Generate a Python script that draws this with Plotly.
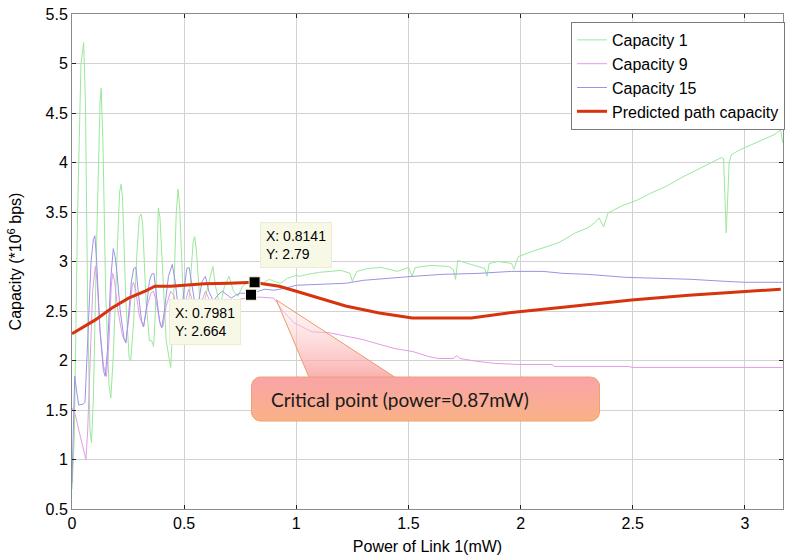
import numpy as np
import plotly.graph_objects as go

# ---- series data: power of link 1 (mW) vs capacity (*10^6 bps) ----
cap1_x = [0.000, 0.010, 0.025, 0.040, 0.052, 0.060, 0.070, 0.080, 0.087, 0.095,
          0.110, 0.125, 0.130, 0.138, 0.150, 0.165, 0.173, 0.183, 0.200, 0.212,
          0.219, 0.225, 0.240, 0.255, 0.262, 0.275, 0.290, 0.300, 0.308, 0.315,
          0.330, 0.345, 0.355, 0.364, 0.372, 0.385, 0.392, 0.405, 0.420, 0.440,
          0.450, 0.465, 0.473, 0.480, 0.495, 0.510, 0.525, 0.540, 0.547, 0.555,
          0.570, 0.585, 0.600, 0.620, 0.628, 0.640, 0.660, 0.680, 0.700, 0.720,
          0.740, 0.760, 0.790, 0.820, 0.850, 0.880, 0.900, 0.930, 0.960, 1.000,
          1.013, 1.050, 1.100, 1.150, 1.200, 1.240, 1.250, 1.270, 1.320, 1.380,
          1.420, 1.450, 1.500, 1.516, 1.530, 1.600, 1.680, 1.700, 1.710, 1.720,
          1.780, 1.840, 1.850, 1.860, 1.900, 1.960, 1.970, 1.990, 2.050, 2.100,
          2.170, 2.245, 2.300, 2.335, 2.350, 2.370, 2.390, 2.450, 2.520, 2.580,
          2.650, 2.720, 2.790, 2.850, 2.895, 2.905, 2.917, 2.930, 2.940, 2.980,
          3.030, 3.080, 3.130, 3.160, 3.168]
cap1_y = [0.70, 1.20, 3.50, 5.00, 5.21, 4.60, 2.50, 1.30, 1.17, 1.60,
          3.20, 4.60, 4.75, 4.20, 2.70, 1.75, 1.62, 2.00, 3.00, 3.70,
          3.78, 3.65, 2.60, 2.02, 2.00, 2.40, 3.10, 3.45, 3.48, 3.38,
          2.60, 2.20, 2.20, 2.14, 2.50, 3.54, 3.45, 2.80, 2.20, 1.93,
          2.40, 3.50, 3.73, 3.55, 2.70, 2.40, 2.70, 3.20, 3.25, 3.10,
          2.60, 2.55, 2.70, 2.90, 2.95, 2.75, 2.55, 2.75, 2.85, 2.70,
          2.65, 2.75, 2.80, 2.75, 2.78, 2.82, 2.80, 2.78, 2.83, 2.86,
          2.85, 2.87, 2.89, 2.90, 2.91, 2.88, 2.80, 2.90, 2.93, 2.94,
          2.92, 2.90, 2.94, 2.85, 2.94, 2.96, 2.95, 2.92, 2.82, 3.01,
          2.97, 2.93, 2.85, 2.98, 3.00, 2.98, 2.92, 3.05, 3.10, 3.14,
          3.19, 3.29, 3.34, 3.40, 3.44, 3.35, 3.49, 3.56, 3.62, 3.69,
          3.76, 3.85, 3.93, 4.00, 4.05, 4.04, 3.29, 4.00, 4.08, 4.13,
          4.18, 4.23, 4.28, 4.33, 4.20]

cap9_x = [0.000, 0.015, 0.030, 0.045, 0.062, 0.070, 0.080, 0.092, 0.104, 0.112,
          0.125, 0.140, 0.154, 0.165, 0.175, 0.181, 0.190, 0.205, 0.225, 0.240,
          0.255, 0.268, 0.274, 0.285, 0.300, 0.319, 0.335, 0.352, 0.363, 0.375,
          0.395, 0.405, 0.420, 0.440, 0.455, 0.475, 0.490, 0.505, 0.520, 0.535,
          0.555, 0.575, 0.595, 0.615, 0.640, 0.660, 0.690, 0.720, 0.750, 0.780,
          0.836, 0.900, 0.940, 0.990, 1.070, 1.147, 1.265, 1.300, 1.360, 1.440,
          1.520, 1.590, 1.635, 1.700, 1.715, 1.730, 1.810, 1.890, 1.990, 2.140,
          2.150, 2.480, 2.500, 3.168]
cap9_y = [1.52, 1.45, 1.30, 1.15, 1.00, 1.30, 2.00, 2.70, 2.95, 2.80,
          2.30, 1.95, 1.84, 2.20, 2.75, 2.88, 2.80, 2.50, 2.25, 2.18,
          2.45, 2.75, 2.79, 2.70, 2.45, 2.34, 2.55, 2.68, 2.70, 2.60,
          2.35, 2.34, 2.55, 2.70, 2.65, 2.45, 2.45, 2.60, 2.72, 2.62,
          2.50, 2.58, 2.70, 2.60, 2.56, 2.58, 2.62, 2.60, 2.62, 2.63,
          2.64, 2.63, 2.50, 2.38, 2.29, 2.28, 2.23, 2.21, 2.17, 2.12,
          2.09, 2.04, 2.02, 2.02, 2.05, 2.02, 1.99, 1.97, 1.96, 1.96,
          1.94, 1.94, 1.93, 1.93]

cap15_x = [0.000, 0.006, 0.012, 0.020, 0.030, 0.050, 0.058, 0.070, 0.085, 0.095,
           0.102, 0.110, 0.125, 0.140, 0.148, 0.158, 0.172, 0.184, 0.192, 0.200,
           0.215, 0.232, 0.240, 0.250, 0.265, 0.275, 0.285, 0.295, 0.310, 0.319,
           0.330, 0.345, 0.355, 0.365, 0.375, 0.390, 0.400, 0.412, 0.430, 0.447,
           0.460, 0.475, 0.485, 0.500, 0.512, 0.522, 0.535, 0.550, 0.565, 0.580,
           0.595, 0.610, 0.630, 0.650, 0.670, 0.690, 0.710, 0.730, 0.750, 0.780,
           0.7981, 0.830, 0.860, 0.900, 0.950, 1.000, 1.100, 1.220, 1.300, 1.400,
           1.520, 1.650, 1.810, 1.960, 2.100, 2.190, 2.300, 2.470, 2.600, 2.760,
           2.910, 3.000, 3.168]
cap15_y = [0.76, 1.30, 1.84, 1.70, 1.55, 1.56, 1.58, 2.20, 3.00, 3.22,
           3.26, 3.00, 2.30, 1.90, 1.84, 2.10, 2.80, 3.13, 3.05, 2.90,
           2.50, 2.22, 2.18, 2.40, 2.80, 2.93, 2.94, 2.70, 2.40, 2.34,
           2.50, 2.80, 2.87, 2.88, 2.70, 2.40, 2.33, 2.50, 2.85, 2.97,
           2.80, 2.50, 2.45, 2.70, 2.93, 2.94, 2.75, 2.55, 2.60, 2.80,
           2.85, 2.70, 2.60, 2.66, 2.70, 2.66, 2.63, 2.66, 2.68, 2.68,
           2.664, 2.70, 2.72, 2.71, 2.73, 2.76, 2.77, 2.78, 2.81, 2.83,
           2.85, 2.87, 2.88, 2.90, 2.90, 2.88, 2.87, 2.84, 2.83, 2.82,
           2.80, 2.79, 2.79]

pred_x = [0.000, 0.050, 0.104, 0.178, 0.252, 0.326, 0.370, 0.440, 0.500, 0.591,
          0.700, 0.760, 0.8141, 0.850, 0.924, 1.000, 1.070, 1.220, 1.370, 1.517,
          1.780, 1.960, 2.200, 2.495, 2.750, 3.000, 3.160]
pred_y = [2.27, 2.34, 2.41, 2.53, 2.63, 2.70, 2.75, 2.75, 2.76, 2.775,
          2.78, 2.785, 2.79, 2.775, 2.75, 2.70, 2.65, 2.55, 2.48, 2.43,
          2.43, 2.485, 2.54, 2.61, 2.66, 2.70, 2.72]

# data-cursor tips
tip_x = [0.8141, 0.7981]
tip_y = [2.79, 2.664]

x_ticks = [0, 0.5, 1, 1.5, 2, 2.5, 3]
y_ticks = [0.5, 1, 1.5, 2, 2.5, 3, 3.5, 4, 4.5, 5, 5.5]

callout_text = "Critical point (power=0.87mW)"

# ---- figure geometry ----
W, H = 789, 560
ML, MR, MT, MB = 72, 4, 14, 51
X_RANGE = (0, 3.17)
Y_RANGE = (0.5, 5.5)


def px_x(px):
    return X_RANGE[0] + (px - ML) / (W - ML - MR) * (X_RANGE[1] - X_RANGE[0])


def px_y(py):
    return Y_RANGE[0] + (H - MB - py) / (H - MT - MB) * (Y_RANGE[1] - Y_RANGE[0])


def rounded_rect(x0, y0, x1, y1, r, n=8):
    """Closed outline (pixel space) of a rounded rectangle."""
    pts = []
    corners = [(x1 - r, y0 + r, -90, 0), (x1 - r, y1 - r, 0, 90),
               (x0 + r, y1 - r, 90, 180), (x0 + r, y0 + r, 180, 270)]
    for cx, cy, a0, a1 in corners:
        for a in np.linspace(np.radians(a0), np.radians(a1), n):
            pts.append((cx + r * np.cos(a), cy + r * np.sin(a)))
    pts.append(pts[0])
    xs = [px_x(p[0]) for p in pts]
    ys = [px_y(p[1]) for p in pts]
    return xs, ys


FONT = "Liberation Sans, Arial, sans-serif"
fig = go.Figure()

fig.add_trace(go.Scatter(x=cap1_x, y=cap1_y, mode="lines", name="Capacity 1",
                         line=dict(color="#9be89b", width=1)))
fig.add_trace(go.Scatter(x=cap9_x, y=cap9_y, mode="lines", name="Capacity 9",
                         line=dict(color="#e49be9", width=1)))
fig.add_trace(go.Scatter(x=cap15_x, y=cap15_y, mode="lines", name="Capacity 15",
                         line=dict(color="#9a94e6", width=1)))
fig.add_trace(go.Scatter(x=pred_x, y=pred_y, mode="lines", name="Predicted path capacity",
                         line=dict(color="#d8330f", width=3)))

# callout pointer (translucent wedge)
wedge_px = [(277, 300), (310, 378), (397, 378), (277, 300)]
fig.add_trace(go.Scatter(
    x=[px_x(p[0]) for p in wedge_px], y=[px_y(p[1]) for p in wedge_px],
    mode="lines", fill="toself", showlegend=False, hoverinfo="skip",
    line=dict(color="#ec9a6a", width=1),
    fillgradient=dict(type="vertical",
                      colorscale=[[0, "rgba(249,150,150,0.75)"],
                                  [1, "rgba(255,240,240,0.35)"]])))

# callout box
bx, by = rounded_rect(252, 377, 601, 421, 9)
fig.add_trace(go.Scatter(
    x=bx, y=by, mode="lines", fill="toself", showlegend=False, hoverinfo="skip",
    line=dict(color="#f0a070", width=1),
    fillgradient=dict(type="vertical",
                      colorscale=[[0, "#f9b286"], [1, "#f9a4a8"]])))

# data-cursor markers
fig.add_trace(go.Scatter(x=tip_x, y=tip_y, mode="markers", showlegend=False,
                         hoverinfo="skip",
                         marker=dict(symbol="square", size=11, color="black",
                                     line=dict(color="#f4f4dc", width=1))))

tip_style = dict(showarrow=False, align="left", bgcolor="#f8f8e6",
                 bordercolor="#ebebd6", borderwidth=1, borderpad=5,
                 font=dict(family=FONT, size=14, color="black"))
fig.add_annotation(x=tip_x[0], y=tip_y[0], text=f"X: {tip_x[0]}<br>Y: {tip_y[0]}",
                   xanchor="left", yanchor="bottom", xshift=5, yshift=14, **tip_style)
fig.add_annotation(x=tip_x[1], y=tip_y[1], text=f"X: {tip_x[1]}<br>Y: {tip_y[1]}",
                   xanchor="right", yanchor="top", xshift=-10, yshift=-4, **tip_style)

fig.add_annotation(x=px_x(270), y=px_y(399), text=callout_text, showarrow=False,
                   xanchor="left", yanchor="middle",
                   font=dict(family="Lato, Open Sans, sans-serif", size=19, color="#1a1a1a"))

axis_common = dict(showgrid=True, gridcolor="#d2d2d2", gridwidth=1,
                   showline=True, linecolor="#8a8a8a", linewidth=1, mirror="ticks",
                   ticks="inside", ticklen=4, tickcolor="#222", zeroline=False,
                   tickfont=dict(family=FONT, size=16, color="black"))

fig.update_xaxes(range=list(X_RANGE), tickvals=x_ticks,
                 title=dict(text="Power of Link 1(mW)", standoff=9,
                            font=dict(family=FONT, size=16, color="black")),
                 **axis_common)
fig.update_yaxes(range=list(Y_RANGE), tickvals=y_ticks,
                 title=dict(text="Capacity (*10<sup>6</sup> bps)", standoff=19,
                            font=dict(family=FONT, size=16, color="black")),
                 **axis_common)

fig.update_layout(
    width=W, height=H,
    margin=dict(l=ML, r=MR, t=MT, b=MB),
    plot_bgcolor="white", paper_bgcolor="white",
    legend=dict(x=(787 - ML) / (W - ML - MR), y=(H - MB - 22) / (H - MT - MB),
                xanchor="right", yanchor="top",
                bgcolor="white", bordercolor="#7a7a7a", borderwidth=1,
                font=dict(family=FONT, size=16, color="black"),
                tracegroupgap=0),
    showlegend=True,
)

fig.write_html("out.html")
